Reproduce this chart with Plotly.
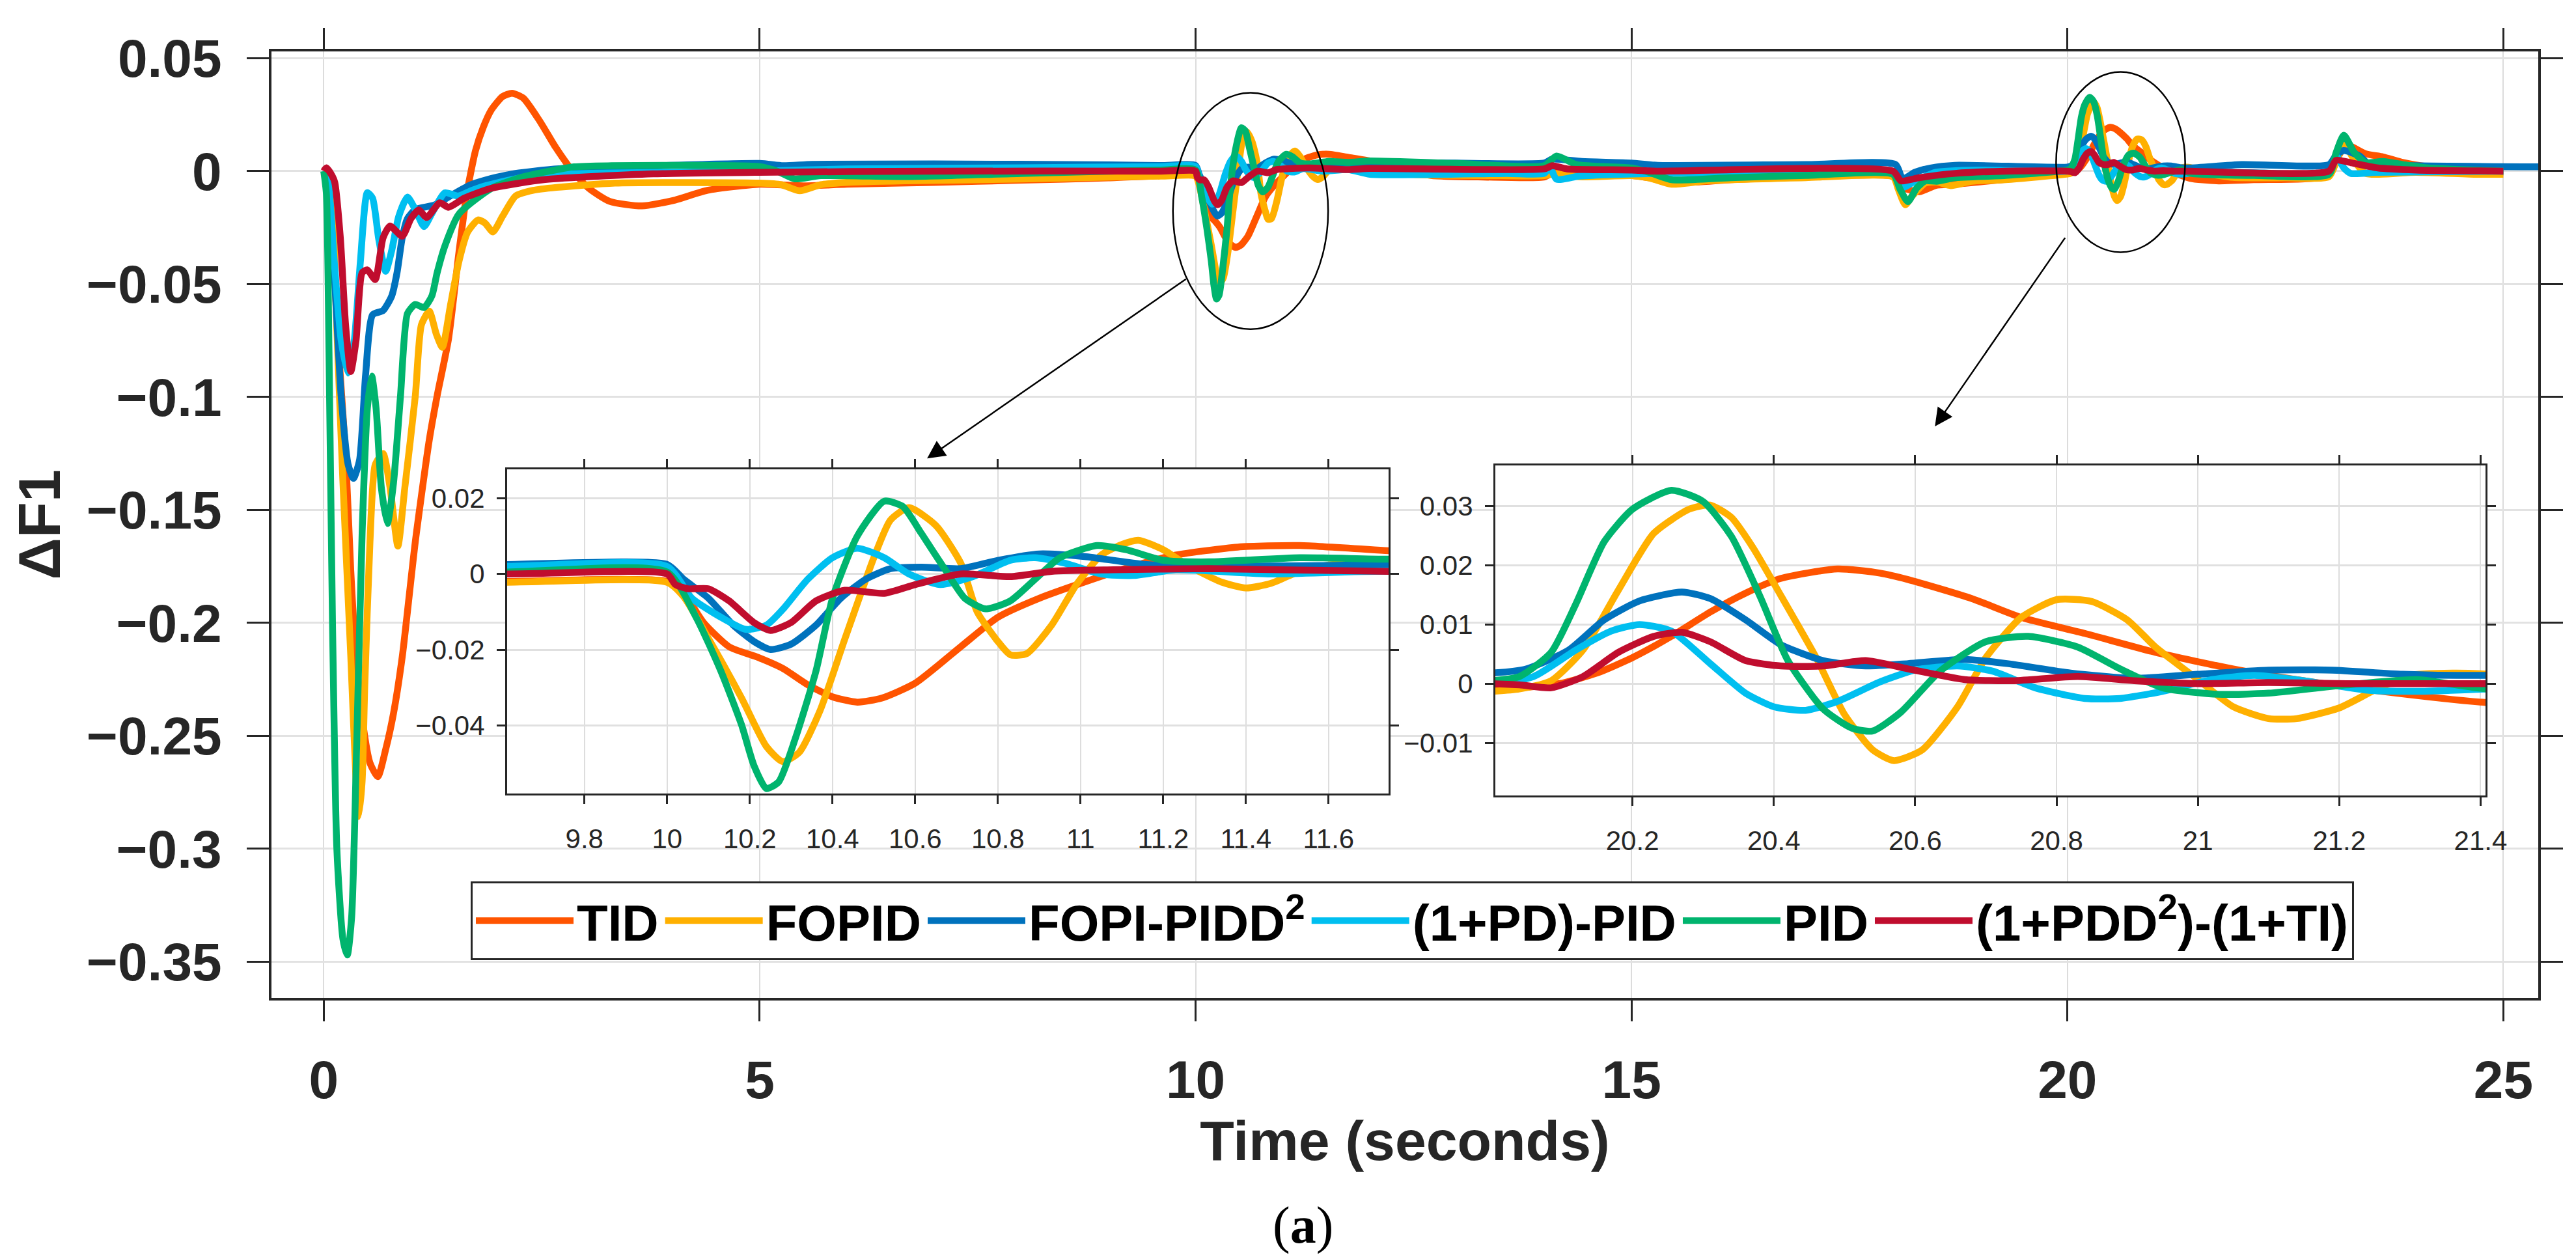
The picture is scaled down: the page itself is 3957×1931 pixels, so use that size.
import plotly.graph_objects as go

# ---------------- data ----------------
series_names = ["TID", "FOPID", "FOPI-PIDD<sup>2</sup>", "(1+PD)-PID", "PID",
                "(1+PDD<sup>2</sup>)-(1+TI)"]
series_colors = ["#FF5400", "#FFB000", "#0072BD", "#00BFF0", "#00B46E", "#C00D2E"]

tid_t = [0, 0.05, 0.1, 0.18, 0.25, 0.31, 0.37, 0.45, 0.53, 0.62, 0.71, 0.8, 0.9, 1.05, 1.21,
         1.3, 1.43, 1.55, 1.64, 1.74, 1.83, 1.92, 2.05, 2.16, 2.29, 2.48, 2.66, 2.85, 3.04,
         3.28, 3.65, 4.03, 4.4, 5.0, 5.5, 6.0, 7.0, 8.0, 9.0, 9.6, 10.0, 10.04, 10.088, 10.15,
         10.22, 10.28, 10.34, 10.4, 10.46, 10.52, 10.6, 10.71, 10.8, 10.9, 11.01, 11.13,
         11.23, 11.38, 11.53, 11.75, 12.0, 12.3, 12.7, 13.3, 14.0, 14.1, 14.3, 14.7, 15.0,
         15.4, 15.74, 16.14, 17.0, 18.0, 18.1, 18.3, 18.49, 18.71, 19.29, 20.0, 20.096,
         20.15, 20.2, 20.255, 20.31, 20.36, 20.41, 20.49, 20.55, 20.59, 20.68, 20.75, 20.84,
         20.94, 21.05, 21.15, 21.26, 21.41, 21.71, 22.14, 23.0, 23.1, 23.2, 23.42, 23.62,
         23.85, 24.14, 24.71, 25.0]
tid_v = [0, -0.003, -0.03, -0.085, -0.125, -0.177, -0.215, -0.245, -0.262, -0.268, -0.256,
         -0.24, -0.215, -0.164, -0.119, -0.0995, -0.0745, -0.036, -0.01, 0.009, 0.0195, 0.027,
         0.033, 0.0345, 0.0323, 0.022, 0.0105, 0.0002, -0.0076, -0.0134, -0.0154, -0.0128,
         -0.0085, -0.0058, -0.0065, -0.0058, -0.005, -0.004, -0.003, -0.002, -0.002, -0.005,
         -0.0128, -0.0192, -0.022, -0.0249, -0.0292, -0.0324, -0.0338, -0.0327, -0.0288,
         -0.0192, -0.0114, -0.0064, -0.0021, 0.0022, 0.005, 0.0071, 0.0075, 0.0061, 0.0045,
         0.0015, -0.0019, -0.0026, -0.0026, -0.0005, -0.0015, -0.002, -0.0019, -0.004, -0.0048,
         -0.0038, -0.0026, -0.0024, -0.007, -0.0091, -0.0063, -0.0058, -0.0036, -0.001, 0.0,
         0.0018, 0.0044, 0.008, 0.0121, 0.0153, 0.0178, 0.0194, 0.0187, 0.0176, 0.0144,
         0.0112, 0.0085, 0.0053, 0.0025, 0.0005, -0.0013, -0.0032, -0.0043, -0.0038, -0.0019,
         0.006, 0.0115, 0.0077, 0.0063, 0.0038, 0.0019, 0.0, -0.0005]

fopid_t = [0, 0.08, 0.14, 0.22, 0.31, 0.37, 0.40, 0.44, 0.47, 0.53, 0.59, 0.68, 0.76, 0.85,
           0.93, 1.05, 1.12, 1.21, 1.29, 1.36, 1.45, 1.55, 1.65, 1.77, 1.85, 1.94, 2.05, 2.2,
           2.4, 2.67, 3.34, 5.0, 5.25, 5.46, 5.7, 6.0, 6.67, 8.0, 9.6, 10.0, 10.04, 10.1,
           10.18, 10.24, 10.28, 10.32, 10.37, 10.43, 10.5, 10.54, 10.585, 10.65, 10.71, 10.75,
           10.8, 10.83, 10.87, 10.93, 10.99, 11.05, 11.1, 11.14, 11.2, 11.26, 11.34, 11.4,
           11.46, 11.53, 11.61, 11.75, 12.0, 12.5, 13.5, 14.0, 14.15, 14.4, 15.0, 15.2, 15.46,
           15.86, 17.0, 18.0, 18.06, 18.14, 18.22, 18.37, 18.5, 18.66, 18.9, 19.29, 20.0,
           20.04, 20.085, 20.13, 20.18, 20.23, 20.28, 20.31, 20.34, 20.37, 20.41, 20.46, 20.5,
           20.54, 20.57, 20.61, 20.66, 20.7, 20.75, 20.8, 20.85, 20.9, 20.94, 21.0, 21.05,
           21.1, 21.14, 21.2, 21.25, 21.3, 21.36, 21.41, 21.6, 21.9, 22.5, 23.0, 23.1, 23.18,
           23.3, 23.42, 24.0, 24.7, 25.0]
fopid_v = [0, -0.005, -0.06, -0.138, -0.215, -0.27, -0.2857, -0.27, -0.228, -0.164, -0.13,
           -0.125, -0.14, -0.166, -0.14, -0.0995, -0.068, -0.062, -0.072, -0.078, -0.06, -0.04,
           -0.027, -0.0216, -0.023, -0.0269, -0.02, -0.011, -0.0085, -0.0072, -0.0053, -0.0053,
           -0.006, -0.0087, -0.006, -0.005, -0.0043, -0.0035, -0.0022, -0.0022, -0.006, -0.017,
           -0.0327, -0.0455, -0.0495, -0.047, -0.036, -0.0171, 0.0043, 0.0142, 0.0175, 0.0128,
           0.0029, -0.01, -0.0178, -0.0213, -0.021, -0.0135, -0.0028, 0.005, 0.0078, 0.0089,
           0.0064, 0.0022, -0.0021, -0.0037, -0.0025, 0.0007, 0.0025, 0.0025, 0.0005, -0.0015,
           -0.002, -0.002, -0.001, -0.0025, -0.002, -0.003, -0.0058, -0.0043, -0.0029, -0.0026,
           -0.008, -0.0149, -0.011, -0.0053, -0.0048, -0.0064, -0.0045, -0.0038, -0.0013,
           -0.0009, 0.0005, 0.0057, 0.0158, 0.0254, 0.0295, 0.0302, 0.0281, 0.0231, 0.0149,
           0.0044, -0.0052, -0.0112, -0.013, -0.0112, -0.0039, 0.0044, 0.0112, 0.0142, 0.0139,
           0.0108, 0.0062, 0.0007, -0.0039, -0.0059, -0.0059, -0.0041, -0.0011, 0.0014, 0.0018,
           0.0016, -0.001, -0.0028, -0.0029, -0.0024, 0.006, 0.012, 0.004, -0.001, -0.0005,
           -0.0014, -0.0014]

fopi_t = [0, 0.05, 0.12, 0.2, 0.28, 0.34, 0.41, 0.48, 0.56, 0.68, 0.78, 0.84, 0.9, 0.96, 1.05,
          1.27, 1.45, 1.67, 1.87, 2.2, 2.67, 3.5, 5.0, 5.27, 5.6, 7.0, 9.0, 9.6, 10.0, 10.04,
          10.1, 10.16, 10.21, 10.25, 10.3, 10.36, 10.42, 10.48, 10.54, 10.615, 10.71, 10.8,
          10.9, 11.01, 11.16, 11.46, 11.75, 12.4, 14.0, 14.09, 14.43, 15.0, 15.3, 17.0, 18.03,
          18.11, 18.25, 18.43, 18.71, 20.0, 20.05, 20.11, 20.16, 20.21, 20.27, 20.31, 20.36,
          20.41, 20.47, 20.53, 20.59, 20.67, 20.73, 20.82, 20.91, 21.0, 21.1, 21.19, 21.29,
          21.41, 22.0, 23.0, 23.08, 23.17, 23.35, 23.45, 24.0, 25.4]
fopi_v = [0, -0.005, -0.045, -0.1, -0.13, -0.136, -0.128, -0.09, -0.0636, -0.0617, -0.0552,
          -0.045, -0.0295, -0.021, -0.017, -0.015, -0.011, -0.0063, -0.0038, -0.001, 0.001,
          0.002, 0.0034, 0.0024, 0.003, 0.0032, 0.0028, 0.0025, 0.0025, -0.0014, -0.0064,
          -0.0135, -0.0178, -0.0199, -0.0185, -0.0135, -0.0064, -0.0014, 0.0014, 0.0018,
          0.0014, 0.0036, 0.0053, 0.0046, 0.0025, 0.0021, 0.0025, 0.0038, 0.0036, 0.0053,
          0.0043, 0.0036, 0.0026, 0.0029, 0.0029, -0.0034, -0.0005, 0.0014, 0.0026, 0.0018,
          0.0025, 0.0057, 0.0108, 0.014, 0.0155, 0.0144, 0.0108, 0.0066, 0.0039, 0.003, 0.0034,
          0.0041, 0.0034, 0.0018, 0.0009, 0.0016, 0.0023, 0.0023, 0.0016, 0.0014, 0.0029,
          0.0029, 0.007, 0.0091, 0.0067, 0.0034, 0.0024, 0.0019]

pdpid_t = [0, 0.05, 0.12, 0.2, 0.28, 0.35, 0.42, 0.5, 0.56, 0.63, 0.71, 0.78, 0.86, 0.96,
           1.05, 1.15, 1.25, 1.39, 1.54, 1.7, 1.87, 2.34, 3.0, 4.0, 5.0, 6.0, 8.0, 9.6, 10.0,
           10.06, 10.13, 10.19, 10.24, 10.28, 10.34, 10.4, 10.46, 10.525, 10.585, 10.66, 10.74,
           10.83, 10.89, 10.96, 11.05, 11.13, 11.23, 11.46, 11.75, 12.0, 13.57, 14.0, 14.06,
           14.14, 14.4, 14.71, 15.28, 17.0, 18.0, 18.11, 18.26, 18.49, 19.0, 20.0, 20.06, 20.12,
           20.17, 20.21, 20.255, 20.31, 20.36, 20.4, 20.445, 20.49, 20.55, 20.6, 20.66, 20.71,
           20.77, 20.84, 20.89, 20.95, 21.02, 21.08, 21.15, 21.24, 21.31, 21.41, 22.0, 23.0,
           23.09, 23.17, 23.25, 23.56, 25.0]
pdpid_v = [0, -0.005, -0.04, -0.075, -0.0894, -0.075, -0.04, -0.0095, -0.012, -0.03, -0.0443,
           -0.035, -0.02, -0.0115, -0.017, -0.0245, -0.018, -0.0096, -0.011, -0.0085, -0.0063,
           -0.0024, -0.001, -0.0005, 0.0, 0.001, 0.0015, 0.002, 0.002, -0.0064, -0.0114,
           -0.0146, -0.0135, -0.0093, -0.0014, 0.0043, 0.0068, 0.0043, 0.0, -0.0028, -0.0007,
           0.0036, 0.0043, 0.0029, 0.0, -0.0004, 0.0011, 0.0, 0.0007, -0.0014, -0.001, -0.001,
           0.002, -0.0036, -0.0022, -0.0016, -0.001, -0.0005, -0.0005, -0.0072, -0.0043,
           -0.0005, 0.0005, 0.0, 0.0012, 0.0057, 0.0089, 0.01, 0.0089, 0.0034, -0.0016, -0.0039,
           -0.0045, -0.003, 0.0003, 0.0023, 0.003, 0.0021, -0.0007, -0.0025, -0.0025, -0.0013,
           0.0007, 0.0014, 0.0005, -0.0011, -0.0013, -0.0009, -0.0005, -0.0005, 0.0063, 0.0014,
           -0.001, -0.0005, 0.0]

pid_t = [0, 0.03, 0.06, 0.1, 0.15, 0.22, 0.27, 0.32, 0.38, 0.44, 0.5, 0.55, 0.6, 0.66, 0.73,
         0.8, 0.88, 0.96, 1.05, 1.15, 1.24, 1.3, 1.39, 1.55, 1.92, 2.29, 2.87, 3.3, 5.0, 5.2,
         5.4, 5.7, 6.7, 8.0, 9.6, 10.0, 10.07, 10.13, 10.18, 10.21, 10.24, 10.27, 10.31, 10.36,
         10.4, 10.46, 10.525, 10.57, 10.615, 10.675, 10.72, 10.77, 10.83, 10.89, 10.95, 11.04,
         11.11, 11.2, 11.31, 11.53, 11.75, 12.0, 13.0, 14.0, 14.14, 14.37, 15.0, 15.2, 15.46,
         16.14, 17.0, 18.0, 18.08, 18.17, 18.27, 18.37, 18.5, 18.7, 19.29, 20.0, 20.04, 20.085,
         20.12, 20.16, 20.2, 20.255, 20.3, 20.34, 20.38, 20.42, 20.47, 20.51, 20.54, 20.58,
         20.635, 20.7, 20.76, 20.83, 20.89, 20.95, 21.03, 21.1, 21.21, 21.31, 21.41, 22.14,
         23.0, 23.08, 23.17, 23.29, 23.42, 23.62, 23.85, 24.14, 25.0]
pid_v = [0, -0.01, -0.08, -0.2, -0.3, -0.34, -0.347, -0.33, -0.25, -0.16, -0.105, -0.0907,
         -0.105, -0.14, -0.156, -0.138, -0.0995, -0.063, -0.059, -0.0604, -0.0552, -0.045,
         -0.033, -0.019, -0.0077, -0.0025, 0.0019, 0.0024, 0.002, 0.0, -0.0034, -0.002,
         -0.0024, -0.001, 0.0005, 0.0005, -0.0114, -0.0256, -0.0398, -0.0505, -0.0566,
         -0.0548, -0.0434, -0.0256, -0.0064, 0.01, 0.0192, 0.0178, 0.0107, 0.0007, -0.0064,
         -0.0092, -0.0071, -0.0014, 0.0043, 0.0075, 0.0064, 0.0036, 0.0032, 0.0043, 0.0039,
         0.0045, 0.0034, 0.0024, 0.0067, 0.0029, 0.0014, -0.0005, -0.0038, -0.0029, -0.0019,
         -0.0014, -0.008, -0.0135, -0.0075, -0.0043, -0.0045, -0.003, -0.0019, 0.0005, 0.0012,
         0.0053, 0.0135, 0.024, 0.0295, 0.0327, 0.0308, 0.0249, 0.0149, 0.0039, -0.0043,
         -0.0075, -0.008, -0.0048, 0.0021, 0.0071, 0.008, 0.0062, 0.0025, -0.0007, -0.0018,
         -0.0016, -0.0002, 0.0007, -0.0009, -0.0019, -0.0014, 0.008, 0.0159, 0.0082, 0.0038,
         0.0043, 0.0029, 0.0014, 0.0]

pdd_t = [0, 0.03, 0.1, 0.126, 0.19, 0.25, 0.31, 0.37, 0.44, 0.5, 0.59, 0.68, 0.76, 0.9, 1.0,
         1.09, 1.18, 1.33, 1.43, 1.61, 1.92, 2.54, 3.78, 5.0, 7.0, 9.6, 10.0, 10.02, 10.05,
         10.1, 10.15, 10.21, 10.25, 10.3, 10.36, 10.43, 10.525, 10.6, 10.71, 10.83, 10.93,
         11.08, 11.31, 11.75, 12.0, 14.0, 14.09, 14.26, 15.0, 15.28, 18.0, 18.09, 18.3, 18.71,
         19.29, 20.0, 20.04, 20.085, 20.13, 20.18, 20.23, 20.27, 20.31, 20.36, 20.41, 20.47,
         20.53, 20.59, 20.67, 20.74, 20.83, 20.91, 21.0, 21.1, 21.21, 21.41, 23.0, 23.08,
         23.29, 23.56, 24.0, 25.0]
pdd_v = [0, 0.0015, -0.0024, -0.005, -0.0295, -0.068, -0.0887, -0.075, -0.045, -0.0437,
         -0.048, -0.0295, -0.0243, -0.0288, -0.021, -0.0172, -0.0205, -0.014, -0.016, -0.012,
         -0.0076, -0.0037, -0.0012, -0.0005, 0.0, 0.0, 0.0, -0.0028, -0.0039, -0.0039, -0.0071,
         -0.0128, -0.0149, -0.0128, -0.0071, -0.0043, -0.0051, -0.0028, 0.0, -0.0007, 0.0007,
         0.0011, 0.0014, 0.0007, 0.0012, 0.001, 0.0024, 0.001, 0.0005, 0.0, 0.0, -0.0043,
         -0.0029, -0.001, 0.0, 0.0, -0.0002, -0.0007, 0.0012, 0.0053, 0.008, 0.0087, 0.0071,
         0.0039, 0.003, 0.003, 0.0039, 0.0025, 0.0007, 0.0005, 0.0012, 0.0005, 0.0, 0.0002,
         0.0, 0.0, 0.0, 0.0048, 0.0034, 0.0014, 0.0005, 0.0]

series_t = [tid_t, fopid_t, fopi_t, pdpid_t, pid_t, pdd_t]
series_v = [tid_v, fopid_v, fopi_v, pdpid_v, pid_v, pdd_v]
for _t, _v in zip(series_t, series_v):
    assert len(_t) == len(_v), (len(_t), len(_v))

main_xticks = [0, 5, 10, 15, 20, 25]
main_xlabels = ["0", "5", "10", "15", "20", "25"]
main_yticks = [0.05, 0, -0.05, -0.1, -0.15, -0.2, -0.25, -0.3, -0.35]
main_ylabels = ["0.05", "0", "\u22120.05", "\u22120.1", "\u22120.15", "\u22120.2",
                "\u22120.25", "\u22120.3", "\u22120.35"]
inset1_xticks = [9.8, 10, 10.2, 10.4, 10.6, 10.8, 11, 11.2, 11.4, 11.6]
inset1_xlabels = ["9.8", "10", "10.2", "10.4", "10.6", "10.8", "11", "11.2", "11.4", "11.6"]
inset1_yticks = [0.02, 0, -0.02, -0.04]
inset1_ylabels = ["0.02", "0", "\u22120.02", "\u22120.04"]
inset2_xticks = [20.2, 20.4, 20.6, 20.8, 21, 21.2, 21.4]
inset2_xlabels = ["20.2", "20.4", "20.6", "20.8", "21", "21.2", "21.4"]
inset2_yticks = [0.03, 0.02, 0.01, 0, -0.01]
inset2_ylabels = ["0.03", "0.02", "0.01", "0", "\u22120.01"]

# ---------------- figure ----------------
W, H = 3957, 1931
FONT = "Liberation Sans, Arial, Helvetica, sans-serif"
INK = "#262626"

fig = go.Figure()
for name, col, t, v in zip(series_names, series_colors, series_t, series_v):
    fig.add_trace(go.Scatter(x=t, y=v, mode="lines", name=name,
                             line=dict(color=col, width=10.5, shape="spline", smoothing=0.6),
                             xaxis="x", yaxis="y", showlegend=True))
for name, col, t, v in zip(series_names, series_colors, series_t, series_v):
    fig.add_trace(go.Scatter(x=t, y=v, mode="lines", name=name,
                             line=dict(color=col, width=10.5, shape="spline", smoothing=0.6),
                             xaxis="x2", yaxis="y2", showlegend=False))
for name, col, t, v in zip(series_names, series_colors, series_t, series_v):
    fig.add_trace(go.Scatter(x=t, y=v, mode="lines", name=name,
                             line=dict(color=col, width=10.5, shape="spline", smoothing=0.6),
                             xaxis="x3", yaxis="y3", showlegend=False))


def px2fx(px):
    return px / W


def px2fy(py):
    return 1 - py / H


main_tickfont = dict(family=FONT, size=82, color=INK, weight="bold")
inset_tickfont = dict(family=FONT, size=42, color=INK)

common_axis = dict(showline=True, linecolor=INK, mirror="allticks", ticks="outside",
                   tickcolor=INK, zeroline=False, showgrid=True, automargin=False)

fig.update_layout(
    width=W, height=H, autosize=False,
    margin=dict(l=0, r=0, t=0, b=0, pad=0, autoexpand=False),
    paper_bgcolor="white", plot_bgcolor="white",
    xaxis=dict(domain=[px2fx(409), px2fx(3891)], range=[-0.6, 25.4], anchor="y",
               tickvals=main_xticks, ticktext=main_xlabels, tickfont=main_tickfont,
               ticklen=32, tickwidth=3, linewidth=4, gridcolor="#dcdcdc", gridwidth=2,
               ticklabelstandoff=20,
               title=dict(text="Time (seconds)", standoff=0,
                          font=dict(family=FONT, size=86, color=INK, weight="bold")),
               **common_axis),
    yaxis=dict(domain=[px2fy(1525), px2fy(71)], range=[-0.366, 0.053], anchor="x",
               tickvals=main_yticks, ticktext=main_ylabels, tickfont=main_tickfont,
               ticklen=34, tickwidth=3, linewidth=4, gridcolor="#e2e2e2", gridwidth=3,
               ticklabelstandoff=22,
               title=dict(text="\u0394F1", standoff=12,
                          font=dict(family=FONT, size=90, color=INK, weight="bold")),
               **common_axis),
    xaxis2=dict(domain=[px2fx(771), px2fx(2125)], range=[9.613, 11.745], anchor="y2",
                tickvals=inset1_xticks, ticktext=inset1_xlabels, tickfont=inset_tickfont,
                ticklen=13, tickwidth=2.5, linewidth=3, gridcolor="#dddddd", gridwidth=1.5,
                ticklabelstandoff=18, **common_axis),
    yaxis2=dict(domain=[px2fy(1211), px2fy(713)], range=[-0.0579, 0.0276], anchor="x2",
                tickvals=inset1_yticks, ticktext=inset1_ylabels, tickfont=inset_tickfont,
                ticklen=13, tickwidth=2.5, linewidth=3, gridcolor="#e0e0e0", gridwidth=2.5,
                ticklabelstandoff=10, **common_axis),
    xaxis3=dict(domain=[px2fx(2289), px2fx(3810)], range=[20.006, 21.407], anchor="y3",
                tickvals=inset2_xticks, ticktext=inset2_xlabels, tickfont=inset_tickfont,
                ticklen=13, tickwidth=2.5, linewidth=3, gridcolor="#dddddd", gridwidth=1.5,
                ticklabelstandoff=18, **common_axis),
    yaxis3=dict(domain=[px2fy(1214), px2fy(707)], range=[-0.0189, 0.0369], anchor="x3",
                tickvals=inset2_yticks, ticktext=inset2_ylabels, tickfont=inset_tickfont,
                ticklen=13, tickwidth=2.5, linewidth=3, gridcolor="#e0e0e0", gridwidth=2.5,
                ticklabelstandoff=10, **common_axis),
    legend=dict(x=px2fx(715), y=px2fy(1346), xanchor="left", yanchor="top",
                orientation="h", bgcolor="white", bordercolor=INK, borderwidth=3,
                font=dict(family=FONT, size=78, color="black", weight="bold"),
                itemwidth=150, tracegroupgap=0),
    showlegend=True,
)

# zoom ellipses
fig.add_shape(type="circle", xref="x", yref="y", x0=9.74, x1=11.52, y0=-0.0700, y1=0.0347,
              line=dict(color="black", width=2.5))
fig.add_shape(type="circle", xref="x", yref="y", x0=19.87, x1=21.35, y0=-0.0359, y1=0.0439,
              line=dict(color="black", width=2.5))

# arrows from the ellipses to the insets
for (hx, hy, tx, ty) in [(6.92, -0.1272, 9.90, -0.0475), (18.48, -0.1130, 19.98, -0.0291)]:
    fig.add_annotation(x=hx, y=hy, ax=tx, ay=ty, xref="x", yref="y", axref="x", ayref="y",
                       text="", showarrow=True, arrowhead=2, arrowsize=2.2, arrowwidth=2.5,
                       arrowcolor="black")

# panel label
fig.add_annotation(x=px2fx(1993), y=px2fy(1874), xref="paper", yref="paper",
                   text="(<b>a</b>)", showarrow=False, xanchor="center", yanchor="middle",
                   font=dict(family="Liberation Serif, Times New Roman, serif", size=80,
                             color="black"))

fig.write_html("out.html")
